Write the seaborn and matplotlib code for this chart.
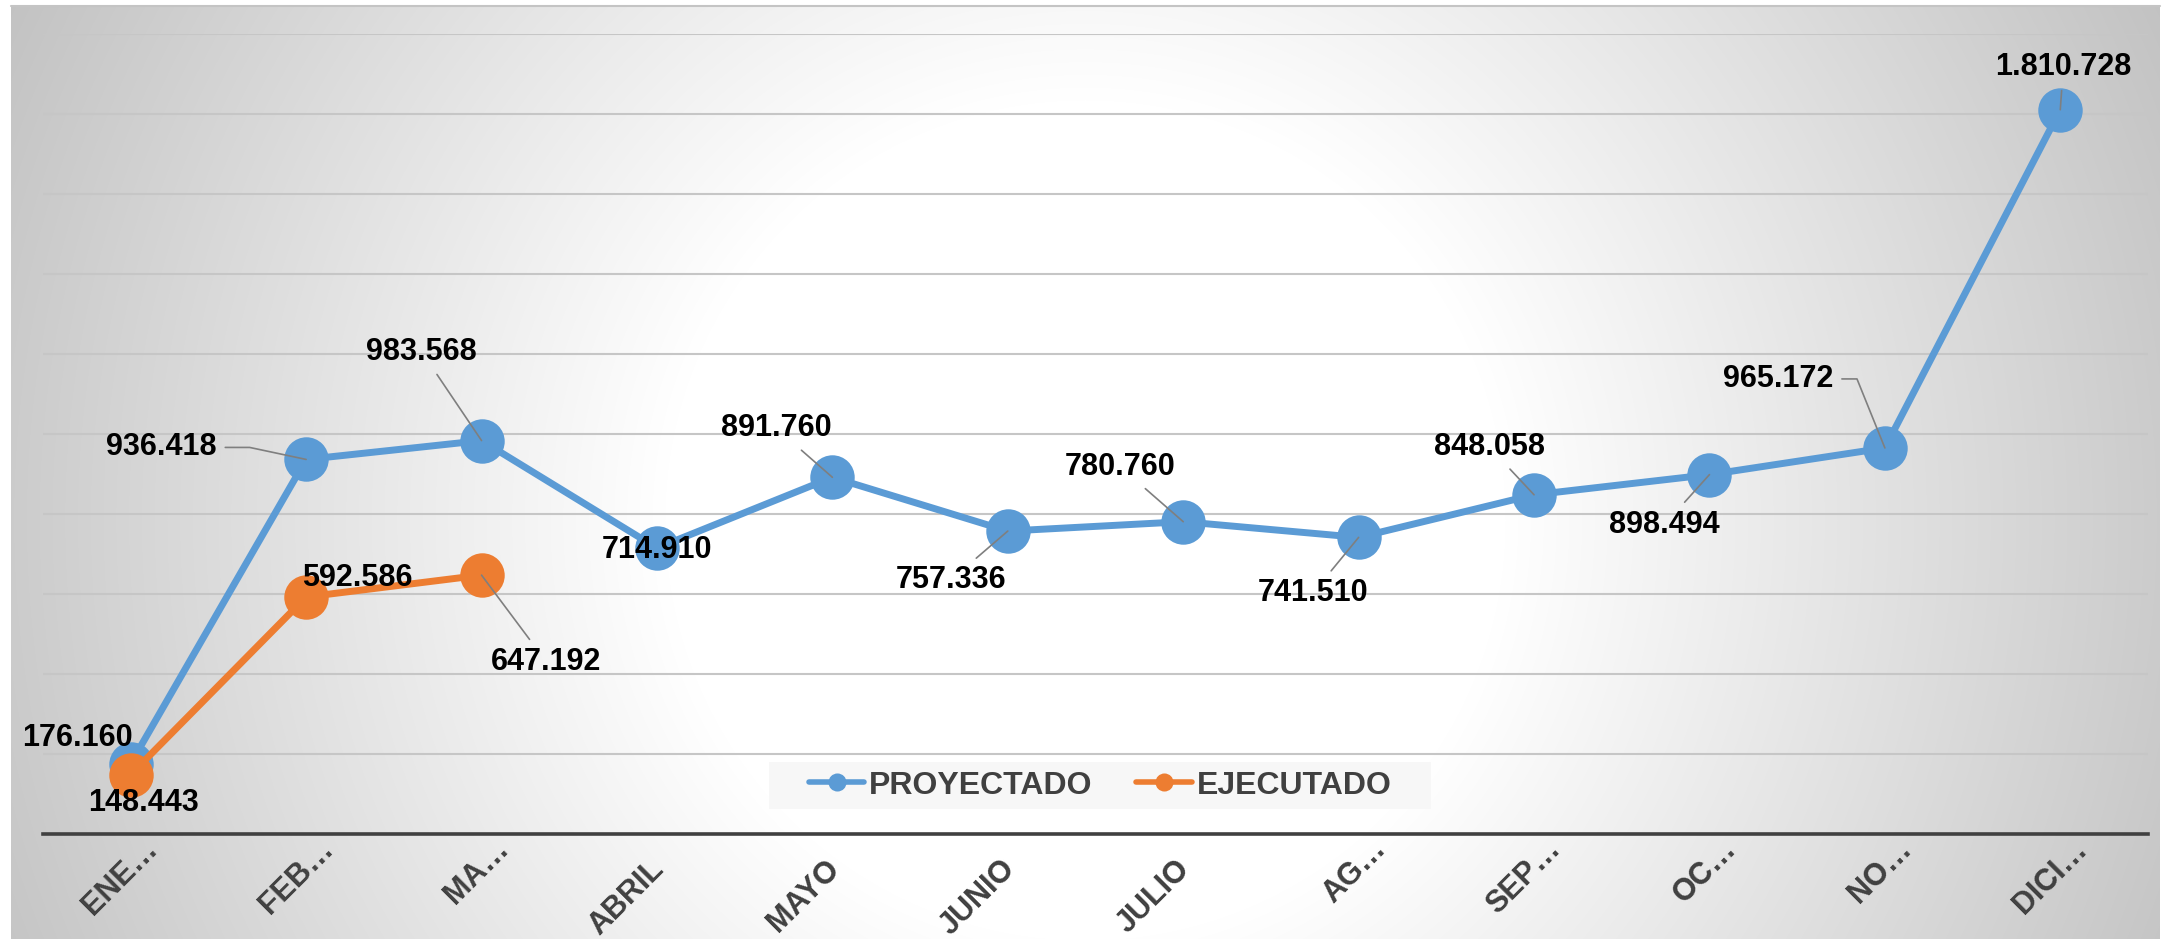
import numpy as np
import pandas as pd
import matplotlib
matplotlib.use("Agg")
import matplotlib.pyplot as plt
import seaborn as sns
from matplotlib.lines import Line2D
from matplotlib.patches import Rectangle
from matplotlib.transforms import ScaledTranslation

# values
MESES = ["ENE…", "FEB…", "MA…", "ABRIL", "MAYO", "JUNIO", "JULIO", "AG…", "SEP…", "OC…", "NO…", "DICI…"]
PROYECTADO = [176160, 936418, 983568, 714910, 891760, 757336, 780760, 741510, 848058, 898494, 965172, 1810728]
EJECUTADO = [148443, 592586, 647192]
SERIES = ["PROYECTADO", "EJECUTADO"]

# where each data label sits (pixels from its point), if it gets a leader line,
# and the angle of the leader's last leg when excel draws it with an elbow
OFF_PROY = [(-53, 26, False, None), (-145, 12, True, 168), (-60, 89, True, None), (0, -2, False, None),
            (-56, 49, True, None), (-57, -49, True, None), (-63, 55, True, None), (-46, -56, True, None),
            (-45, 48, True, None), (-45, -50, True, None), (-107, 69, True, 112), (3, 43, True, None)]
OFF_EJEC = [(13, -28, False, None), (51, 19, False, None), (65, -87, True, None)]

COLORS = {"PROYECTADO": "#5B9BD5", "EJECUTADO": "#ED7D31"}
W, H, DPI = 2169, 939, 100


def fmt(v):
    # spanish thousands separator
    return f"{v:,}".replace(",", ".")


sns.set_theme(style="white")
plt.rcParams["font.family"] = ["Liberation Sans", "DejaVu Sans"]

fig = plt.figure(figsize=(W / DPI, H / DPI), dpi=DPI)

# background: grey -> white radial gradient like the excel chart area
bg = fig.add_axes([0, 0, 1, 1], zorder=-10)
yy, xx = np.mgrid[0:H, 0:W]
d = np.hypot(xx - 1085, yy - 520)
t = np.clip((d - 420) / (1250 - 420), 0, 1)
g = 1 - t * (1 - 190 / 255)
g[:, :11] = 1
g[:, 2160:] = 1
g[:5, :] = 1
bg.imshow(np.dstack([g, g, g]), extent=(0, W, H, 0), aspect="auto", interpolation="bilinear")
bg.plot([11, 2160], [5.5, 5.5], color="#c4c4c4", lw=1.5)
bg.set_xlim(0, W)
bg.set_ylim(H, 0)
bg.axis("off")

# plot area
ax = fig.add_axes([43 / W, 1 - 834 / H, (2148 - 43) / W, (834 - 34) / H])
ax.patch.set_alpha(0)

df = pd.concat([
    pd.DataFrame({"mes": MESES, "valor": PROYECTADO, "serie": "PROYECTADO"}),
    pd.DataFrame({"mes": MESES[:len(EJECUTADO)], "valor": EJECUTADO, "serie": "EJECUTADO"}),
])
sns.lineplot(data=df, x="mes", y="valor", hue="serie", hue_order=SERIES, palette=COLORS,
             sort=False, errorbar=None, marker="o", markersize=32, markeredgewidth=0,
             linewidth=5, legend=False, ax=ax, zorder=3)

# data labels
for vals, offs in [(PROYECTADO, OFF_PROY), (EJECUTADO, OFF_EJEC)]:
    for mes, v, (dx, dy, leader, elbow) in zip(MESES, vals, offs):
        arrow = None
        if leader:
            arrow = dict(arrowstyle="-", color="#7f7f7f", lw=1.2, shrinkA=4, shrinkB=0)
            if elbow is not None:
                arrow["connectionstyle"] = f"angle,angleA=0,angleB={elbow},rad=0"
        ax.annotate(fmt(v), xy=(mes, v), xytext=(dx, dy), textcoords="offset pixels",
                    ha="center", va="center", fontsize=22, fontweight="bold", color="black",
                    arrowprops=arrow, zorder=6)

ax.set_ylim(0, 2000000)
ax.set_xlim(-0.5, len(MESES) - 0.5)
ax.set_yticks(np.arange(0, 2000001, 200000))
ax.yaxis.grid(True, color="#c6c6c6", lw=1.5)
ax.set_axisbelow(True)
ax.tick_params(axis="y", left=False, labelleft=False)
ax.tick_params(axis="x", length=0, pad=0)
for s in ["left", "right", "top"]:
    ax.spines[s].set_visible(False)
ax.spines["bottom"].set_color("#404040")
ax.spines["bottom"].set_linewidth(2.6)
ax.set_xlabel("")
ax.set_ylabel("")

ax.set_xticks(range(len(MESES)))
ax.set_xticklabels(MESES, rotation=45, ha="right", va="top", rotation_mode="anchor",
                   fontsize=22, fontweight="bold", color="#404040")
for lab in ax.get_xticklabels():
    # excel puts the truncated names a bit further along the slant
    dx, dy = (12, 0) if lab.get_text().endswith("…") else (-8, -20)
    lab.set_transform(lab.get_transform() + ScaledTranslation(dx / DPI, dy / DPI, fig.dpi_scale_trans))

# legend with its light box
fig.patches.append(Rectangle((769 / W, 1 - 809 / H), (1431 - 769) / W, 47 / H,
                             transform=fig.transFigure, facecolor="#f7f7f7", edgecolor="none", zorder=1))
handles = [Line2D([], [], color=COLORS[s], lw=4, marker="o", markersize=13, markeredgewidth=0) for s in SERIES]
fig.legend(handles, SERIES, loc="center", bbox_to_anchor=(1100 / W, 1 - 785.5 / H), ncol=2,
           frameon=False, prop={"weight": "bold", "size": 23}, labelcolor="#404040",
           handlelength=1.75, handletextpad=0.15, columnspacing=1.35)

fig.savefig("out.png", dpi=DPI)
